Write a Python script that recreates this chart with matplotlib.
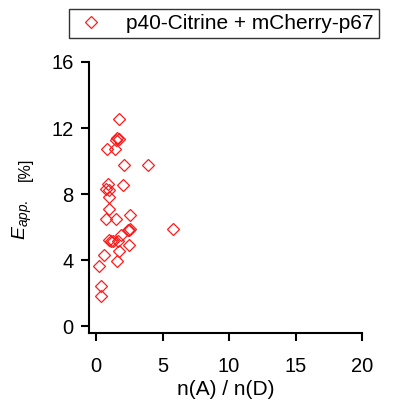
import matplotlib.pyplot as plt

plt.rcParams['font.family'] = ['Liberation Sans', 'DejaVu Sans']
plt.rcParams['mathtext.fontset'] = 'custom'
plt.rcParams['mathtext.rm'] = 'Liberation Sans'
plt.rcParams['mathtext.it'] = 'Liberation Sans:italic'

# n(A) / n(D) ratio and apparent FRET efficiency (%)
ratio = [1.76, 1.60, 1.75, 1.50, 0.86, 1.41, 2.09, 3.87, 0.88, 1.99,
         0.75, 0.96, 1.00, 0.98, 0.75, 1.48, 2.54, 2.40, 2.55, 2.45,
         5.78, 0.96, 1.13, 1.31, 1.64, 1.84, 2.47, 1.76, 0.60, 1.61,
         0.20, 0.35, 0.35]
efficiency = [12.55, 11.40, 11.35, 11.25, 10.70, 10.70, 9.76, 9.76, 8.60, 8.57,
              8.28, 8.24, 7.84, 7.11, 6.46, 6.46, 6.70, 5.85, 5.90, 5.80,
              5.90, 5.21, 5.17, 5.13, 5.15, 5.50, 4.90, 4.57, 4.28, 3.94,
              3.66, 2.45, 1.84]
series_label = 'p40-Citrine + mCherry-p67'

fig = plt.figure(figsize=(3.95, 4.07), dpi=100)
ax = fig.add_axes([0.2253, 0.1818, 0.6912, 0.6659])

ax.plot(ratio, efficiency, linestyle='none', marker='D', markersize=6.5,
        markerfacecolor='none', markeredgecolor='#ff1a1a', markeredgewidth=0.9,
        label=series_label)

ax.set_xlim(-0.53, 20)
ax.set_ylim(-0.42, 16)
ax.set_xticks([0, 5, 10, 15, 20])
ax.set_yticks([0, 4, 8, 12, 16])

for s in ['top', 'right']:
    ax.spines[s].set_visible(False)
for s in ['left', 'bottom']:
    ax.spines[s].set_linewidth(1.5)
ax.tick_params(direction='out', length=6, width=1.5, labelsize=14.5)
ax.tick_params(axis='x', pad=11)
ax.tick_params(axis='y', pad=5)

ax.set_xlabel('n(A) / n(D)', fontsize=15, labelpad=3)

# y label: italic E with subscript, smaller unit
fig.text(0.057, 1 - 240 / 407, r'$E_{app.}$', rotation=90, fontsize=14,
         ha='center', va='bottom')
fig.text(0.063, 1 - 181 / 407, '[%]', rotation=90, fontsize=11.5,
         ha='center', va='bottom')

leg = fig.legend(loc='upper left', bbox_to_anchor=(69 / 395, 1 - 9 / 407), fontsize=15,
                 frameon=True, fancybox=False, edgecolor='black',
                 borderpad=0.25, handletextpad=0.9, handlelength=1.6,
                 borderaxespad=0)
leg.get_frame().set_linewidth(1.0)

fig.savefig('out.png', dpi=100)
